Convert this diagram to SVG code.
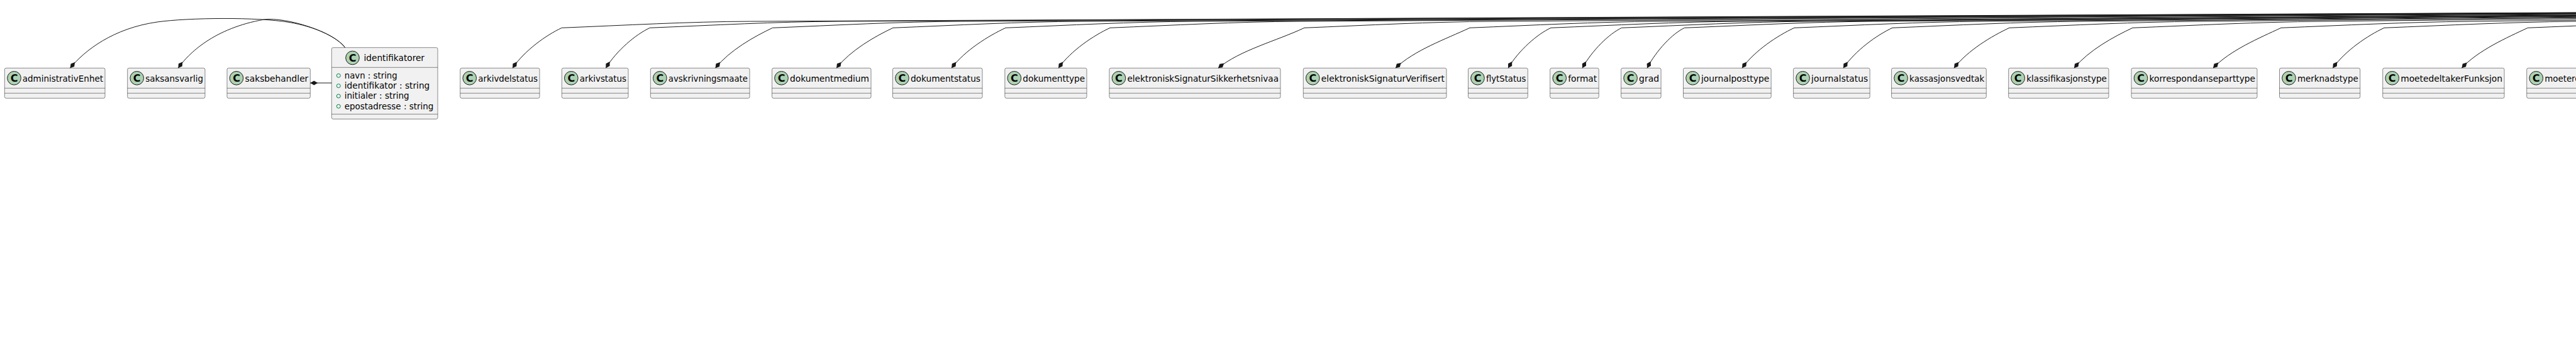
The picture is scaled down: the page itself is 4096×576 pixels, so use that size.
<svg xmlns="http://www.w3.org/2000/svg" width="4096" height="576" viewBox="0 0 4096 576">
<style>
.box{fill:#F1F1F1;stroke:#181818;stroke-width:0.5}
.sep{stroke:#181818;stroke-width:0.5}
.ci{fill:#ADD1B2;stroke:#181818;stroke-width:1}
.cl{font-family:"DejaVu Sans",sans-serif;font-weight:bold;font-size:16px;fill:#000;text-anchor:middle}
.nm{font-family:"DejaVu Sans",sans-serif;font-size:14px;fill:#000}
.vis{fill:none;stroke:#038048;stroke-width:1}
.edge{fill:none;stroke:#181818;stroke-width:1;marker-start:url(#dia)}
</style>
<defs>
<marker id="dia" viewBox="0 -5 14 10" refX="0" refY="0" markerWidth="14" markerHeight="10" markerUnits="userSpaceOnUse" orient="auto">
<path d="M0,0 L6,-3.6 L12,0 L6,3.6 Z" fill="#181818"/>
</marker>
</defs>
<rect width="4096" height="576" fill="#FFFFFF"/>

<g id="administrativEnhet"><rect class="box" x="7.3" y="108.3" width="159.7" height="48" rx="2.5"/><line class="sep" x1="7.3" y1="140.3" x2="167" y2="140.3"/><line class="sep" x1="7.3" y1="148.3" x2="167" y2="148.3"/><circle class="ci" cx="22.5" cy="124.3" r="10.8"/><text class="cl" x="22.5" y="130.1">C</text><text class="nm" x="35.8" y="129.6" textLength="128.2" lengthAdjust="spacingAndGlyphs">administrativEnhet</text></g>
<g id="saksansvarlig"><rect class="box" x="202.7" y="108.3" width="123.3" height="48" rx="2.5"/><line class="sep" x1="202.7" y1="140.3" x2="326" y2="140.3"/><line class="sep" x1="202.7" y1="148.3" x2="326" y2="148.3"/><circle class="ci" cx="217.7" cy="124.3" r="10.8"/><text class="cl" x="217.7" y="130.1">C</text><text class="nm" x="231.2" y="129.6" textLength="91.8" lengthAdjust="spacingAndGlyphs">saksansvarlig</text></g>
<g id="saksbehandler"><rect class="box" x="361" y="108.3" width="132.3" height="48" rx="2.5"/><line class="sep" x1="361" y1="140.3" x2="493.3" y2="140.3"/><line class="sep" x1="361" y1="148.3" x2="493.3" y2="148.3"/><circle class="ci" cx="376" cy="124.3" r="10.8"/><text class="cl" x="376" y="130.1">C</text><text class="nm" x="389.5" y="129.6" textLength="100.8" lengthAdjust="spacingAndGlyphs">saksbehandler</text></g>

<g id="identifikatorer"><rect class="box" x="527.3" y="75.7" width="168.7" height="113.7" rx="2.5"/><line class="sep" x1="527.3" y1="107.3" x2="696" y2="107.3"/><line class="sep" x1="527.3" y1="181.7" x2="696" y2="181.7"/><circle class="ci" cx="560.5" cy="92" r="10.8"/><text class="cl" x="560.5" y="97.8">C</text><text class="nm" x="578.5" y="97" textLength="96.5" lengthAdjust="spacingAndGlyphs">identifikatorer</text>
<circle class="vis" cx="538.3" cy="120.3" r="3"/><text class="nm" x="547.8" y="124.6" textLength="83.9" lengthAdjust="spacingAndGlyphs">navn : string</text>
<circle class="vis" cx="538.3" cy="136.6" r="3"/><text class="nm" x="547.8" y="140.9" textLength="135.5" lengthAdjust="spacingAndGlyphs">identifikator : string</text>
<circle class="vis" cx="538.3" cy="152.9" r="3"/><text class="nm" x="547.8" y="157.2" textLength="102.9" lengthAdjust="spacingAndGlyphs">initialer : string</text>
<circle class="vis" cx="538.3" cy="169.2" r="3"/><text class="nm" x="547.8" y="173.5" textLength="141.5" lengthAdjust="spacingAndGlyphs">epostadresse : string</text></g>

<g id="arkivdelstatus"><rect class="box" x="731.7" y="108.3" width="126.3" height="48" rx="2.5"/><line class="sep" x1="731.7" y1="140.3" x2="858" y2="140.3"/><line class="sep" x1="731.7" y1="148.3" x2="858" y2="148.3"/><circle class="ci" cx="746.7" cy="124.3" r="10.8"/><text class="cl" x="746.7" y="130.1">C</text><text class="nm" x="760.2" y="129.6" textLength="94.8" lengthAdjust="spacingAndGlyphs">arkivdelstatus</text></g>
<g id="arkivstatus"><rect class="box" x="893.3" y="108.3" width="105.7" height="48" rx="2.5"/><line class="sep" x1="893.3" y1="140.3" x2="999" y2="140.3"/><line class="sep" x1="893.3" y1="148.3" x2="999" y2="148.3"/><circle class="ci" cx="908.3" cy="124.3" r="10.8"/><text class="cl" x="908.3" y="130.1">C</text><text class="nm" x="921.8" y="129.6" textLength="74.2" lengthAdjust="spacingAndGlyphs">arkivstatus</text></g>
<g id="avskrivningsmaate"><rect class="box" x="1034.3" y="108.3" width="157.7" height="48" rx="2.5"/><line class="sep" x1="1034.3" y1="140.3" x2="1192" y2="140.3"/><line class="sep" x1="1034.3" y1="148.3" x2="1192" y2="148.3"/><circle class="ci" cx="1049.3" cy="124.3" r="10.8"/><text class="cl" x="1049.3" y="130.1">C</text><text class="nm" x="1062.8" y="129.6" textLength="126.2" lengthAdjust="spacingAndGlyphs">avskrivningsmaate</text></g>
<g id="dokumentmedium"><rect class="box" x="1227.5" y="108.3" width="157.5" height="48" rx="2.5"/><line class="sep" x1="1227.5" y1="140.3" x2="1385" y2="140.3"/><line class="sep" x1="1227.5" y1="148.3" x2="1385" y2="148.3"/><circle class="ci" cx="1242.5" cy="124.3" r="10.8"/><text class="cl" x="1242.5" y="130.1">C</text><text class="nm" x="1256" y="129.6" textLength="126" lengthAdjust="spacingAndGlyphs">dokumentmedium</text></g>
<g id="dokumentstatus"><rect class="box" x="1419.4" y="108.3" width="142.6" height="48" rx="2.5"/><line class="sep" x1="1419.4" y1="140.3" x2="1562" y2="140.3"/><line class="sep" x1="1419.4" y1="148.3" x2="1562" y2="148.3"/><circle class="ci" cx="1434.4" cy="124.3" r="10.8"/><text class="cl" x="1434.4" y="130.1">C</text><text class="nm" x="1447.9" y="129.6" textLength="111.1" lengthAdjust="spacingAndGlyphs">dokumentstatus</text></g>
<g id="dokumenttype"><rect class="box" x="1597.8" y="108.3" width="130.2" height="48" rx="2.5"/><line class="sep" x1="1597.8" y1="140.3" x2="1728" y2="140.3"/><line class="sep" x1="1597.8" y1="148.3" x2="1728" y2="148.3"/><circle class="ci" cx="1612.8" cy="124.3" r="10.8"/><text class="cl" x="1612.8" y="130.1">C</text><text class="nm" x="1626.3" y="129.6" textLength="98.7" lengthAdjust="spacingAndGlyphs">dokumenttype</text></g>
<g id="elektroniskSignaturSikkerhetsnivaa"><rect class="box" x="1763.9" y="108.3" width="272.1" height="48" rx="2.5"/><line class="sep" x1="1763.9" y1="140.3" x2="2036" y2="140.3"/><line class="sep" x1="1763.9" y1="148.3" x2="2036" y2="148.3"/><circle class="ci" cx="1778.9" cy="124.3" r="10.8"/><text class="cl" x="1778.9" y="130.1">C</text><text class="nm" x="1792.4" y="129.6" textLength="240.6" lengthAdjust="spacingAndGlyphs">elektroniskSignaturSikkerhetsnivaa</text></g>
<g id="elektroniskSignaturVerifisert"><rect class="box" x="2072.3" y="108.3" width="227.7" height="48" rx="2.5"/><line class="sep" x1="2072.3" y1="140.3" x2="2300" y2="140.3"/><line class="sep" x1="2072.3" y1="148.3" x2="2300" y2="148.3"/><circle class="ci" cx="2087.3" cy="124.3" r="10.8"/><text class="cl" x="2087.3" y="130.1">C</text><text class="nm" x="2100.8" y="129.6" textLength="196.2" lengthAdjust="spacingAndGlyphs">elektroniskSignaturVerifisert</text></g>
<g id="flytStatus"><rect class="box" x="2334.5" y="108.3" width="94.8" height="48" rx="2.5"/><line class="sep" x1="2334.5" y1="140.3" x2="2429.3" y2="140.3"/><line class="sep" x1="2334.5" y1="148.3" x2="2429.3" y2="148.3"/><circle class="ci" cx="2349.5" cy="124.3" r="10.8"/><text class="cl" x="2349.5" y="130.1">C</text><text class="nm" x="2363" y="129.6" textLength="63.3" lengthAdjust="spacingAndGlyphs">flytStatus</text></g>
<g id="format"><rect class="box" x="2464.7" y="108.3" width="77.5" height="48" rx="2.5"/><line class="sep" x1="2464.7" y1="140.3" x2="2542.2" y2="140.3"/><line class="sep" x1="2464.7" y1="148.3" x2="2542.2" y2="148.3"/><circle class="ci" cx="2479.7" cy="124.3" r="10.8"/><text class="cl" x="2479.7" y="130.1">C</text><text class="nm" x="2493.2" y="129.6" textLength="46" lengthAdjust="spacingAndGlyphs">format</text></g>
<g id="grad"><rect class="box" x="2577.6" y="108.3" width="63.5" height="48" rx="2.5"/><line class="sep" x1="2577.6" y1="140.3" x2="2641.1" y2="140.3"/><line class="sep" x1="2577.6" y1="148.3" x2="2641.1" y2="148.3"/><circle class="ci" cx="2592.6" cy="124.3" r="10.8"/><text class="cl" x="2592.6" y="130.1">C</text><text class="nm" x="2606.1" y="129.6" textLength="32" lengthAdjust="spacingAndGlyphs">grad</text></g>
<g id="journalposttype"><rect class="box" x="2676.5" y="108.3" width="139.7" height="48" rx="2.5"/><line class="sep" x1="2676.5" y1="140.3" x2="2816.2" y2="140.3"/><line class="sep" x1="2676.5" y1="148.3" x2="2816.2" y2="148.3"/><circle class="ci" cx="2691.5" cy="124.3" r="10.8"/><text class="cl" x="2691.5" y="130.1">C</text><text class="nm" x="2705" y="129.6" textLength="108.2" lengthAdjust="spacingAndGlyphs">journalposttype</text></g>
<g id="journalstatus"><rect class="box" x="2851.6" y="108.3" width="121.6" height="48" rx="2.5"/><line class="sep" x1="2851.6" y1="140.3" x2="2973.2" y2="140.3"/><line class="sep" x1="2851.6" y1="148.3" x2="2973.2" y2="148.3"/><circle class="ci" cx="2866.6" cy="124.3" r="10.8"/><text class="cl" x="2866.6" y="130.1">C</text><text class="nm" x="2880.1" y="129.6" textLength="90.1" lengthAdjust="spacingAndGlyphs">journalstatus</text></g>
<g id="kassasjonsvedtak"><rect class="box" x="3007.6" y="108.3" width="150.7" height="48" rx="2.5"/><line class="sep" x1="3007.6" y1="140.3" x2="3158.3" y2="140.3"/><line class="sep" x1="3007.6" y1="148.3" x2="3158.3" y2="148.3"/><circle class="ci" cx="3022.6" cy="124.3" r="10.8"/><text class="cl" x="3022.6" y="130.1">C</text><text class="nm" x="3036.1" y="129.6" textLength="119.2" lengthAdjust="spacingAndGlyphs">kassasjonsvedtak</text></g>
<g id="klassifikasjonstype"><rect class="box" x="3193.7" y="108.3" width="159.3" height="48" rx="2.5"/><line class="sep" x1="3193.7" y1="140.3" x2="3353" y2="140.3"/><line class="sep" x1="3193.7" y1="148.3" x2="3353" y2="148.3"/><circle class="ci" cx="3208.7" cy="124.3" r="10.8"/><text class="cl" x="3208.7" y="130.1">C</text><text class="nm" x="3222.2" y="129.6" textLength="127.8" lengthAdjust="spacingAndGlyphs">klassifikasjonstype</text></g>
<g id="korrespondanseparttype"><rect class="box" x="3389" y="108.3" width="200" height="48" rx="2.5"/><line class="sep" x1="3389" y1="140.3" x2="3589" y2="140.3"/><line class="sep" x1="3389" y1="148.3" x2="3589" y2="148.3"/><circle class="ci" cx="3404" cy="124.3" r="10.8"/><text class="cl" x="3404" y="130.1">C</text><text class="nm" x="3417.5" y="129.6" textLength="168.5" lengthAdjust="spacingAndGlyphs">korrespondanseparttype</text></g>
<g id="merknadstype"><rect class="box" x="3624.5" y="108.3" width="128.2" height="48" rx="2.5"/><line class="sep" x1="3624.5" y1="140.3" x2="3752.7" y2="140.3"/><line class="sep" x1="3624.5" y1="148.3" x2="3752.7" y2="148.3"/><circle class="ci" cx="3639.5" cy="124.3" r="10.8"/><text class="cl" x="3639.5" y="130.1">C</text><text class="nm" x="3653" y="129.6" textLength="96.7" lengthAdjust="spacingAndGlyphs">merknadstype</text></g>
<g id="moetedeltakerFunksjon"><rect class="box" x="3788.7" y="108.3" width="193.3" height="48" rx="2.5"/><line class="sep" x1="3788.7" y1="140.3" x2="3982" y2="140.3"/><line class="sep" x1="3788.7" y1="148.3" x2="3982" y2="148.3"/><circle class="ci" cx="3803.7" cy="124.3" r="10.8"/><text class="cl" x="3803.7" y="130.1">C</text><text class="nm" x="3817.2" y="129.6" textLength="161.8" lengthAdjust="spacingAndGlyphs">moetedeltakerFunksjon</text></g>
<g id="moeteregistreringsstatus"><rect class="box" x="4017.7" y="108.3" width="200" height="48" rx="2.5"/><line class="sep" x1="4017.7" y1="140.3" x2="4217.7" y2="140.3"/><line class="sep" x1="4017.7" y1="148.3" x2="4217.7" y2="148.3"/><circle class="ci" cx="4032.7" cy="124.3" r="10.8"/><text class="cl" x="4032.7" y="130.1">C</text><text class="nm" x="4046.2" y="129.6" textLength="168.5" lengthAdjust="spacingAndGlyphs">moeteregistreringsstatus</text></g>

<g id="connectors">
<path class="edge" d="M111.5,108.3 C135,80 180,45 250,35 C300,28 410,27 460,35.5 C500,42.3 535,58 548.7,75.7"/>
<path class="edge" d="M283.3,108.3 C300,85 340,45 420,31 C455,27 530,50 548.7,75.7"/>
<path class="edge" d="M493.3,132 L527.3,132"/>
<path class="edge" d="M815,108.3 C834.6,80 868.2,56 893.3,44.3 C993.3,40.3 1093.3,34.48 1193.3,34 L6000,10.8"/>
<path class="edge" d="M963.3,108.3 C980.8,80 1010.9,54.8 1033.3,44.3 C1133.3,40.3 1233.3,34.5 1333.3,34 L6000,10.8"/>
<path class="edge" d="M1137.5,108.3 C1160.3,80 1199.4,57.95 1228.5,44.3 C1328.5,40.3 1428.5,34.52 1528.5,34 L6000,10.8"/>
<path class="edge" d="M1330,108.3 C1352.5,80 1391.2,57.8 1420,44.3 C1520,40.3 1620,34.54 1720,34 L6000,10.8"/>
<path class="edge" d="M1513,108.3 C1534.5,80 1571.5,57.2 1599,44.3 C1699,40.3 1799,34.57 1899,34 L6000,10.8"/>
<path class="edge" d="M1683,108.3 C1703.5,80 1738.8,56.6 1765,44.3 C1865,40.3 1965,34.59 2065,34 L6000,10.8"/>
<path class="edge" d="M1937,108.3 C1971.3,80 2030.2,64.85 2074,44.3 C2174,40.3 2274,34.64 2374,34 L6000,10.8"/>
<path class="edge" d="M2219,108.3 C2248.5,80 2299.2,62 2337,44.3 C2437,40.3 2537,34.69 2637,34 L6000,10.8"/>
<path class="edge" d="M2398,108.3 C2415,80 2444.2,54.5 2466,44.3 C2566,40.3 2666,34.72 2766,34 L6000,10.8"/>
<path class="edge" d="M2516,108.3 C2531.7,80 2558.6,53.7 2578.6,44.3 C2678.6,40.3 2778.6,34.74 2878.6,34 L6000,10.8"/>
<path class="edge" d="M2619,108.3 C2633.9,80 2659.5,53.2 2678.5,44.3 C2778.5,40.3 2878.5,34.77 2978.5,34 L6000,10.8"/>
<path class="edge" d="M2770,108.3 C2790.8,80 2826.4,56.75 2853,44.3 C2953,40.3 3053,34.81 3153,34 L6000,10.8"/>
<path class="edge" d="M2931,108.3 C2950.5,80 2984,56 3009,44.3 C3109,40.3 3209,34.86 3309,34 L6000,10.8"/>
<path class="edge" d="M3107,108.3 C3129,80 3166.8,57.5 3195,44.3 C3295,40.3 3395,34.93 3495,34 L6000,10.8"/>
<path class="edge" d="M3298,108.3 C3321.3,80 3361.2,58.25 3391,44.3 C3491,40.3 3591,35 3691,34 L6000,10.8"/>
<path class="edge" d="M3519,108.3 C3546,80 3592.4,60.5 3627,44.3 C3727,40.3 3827,35.12 3927,34 L6000,10.8"/>
<path class="edge" d="M3709.3,108.3 C3729.7,80 3764.9,56.6 3791,44.3 C3891,40.3 3991,35.22 4091,34 L6000,10.8"/>
<path class="edge" d="M3914.3,108.3 C3940.5,80 3985.7,60.05 4019.3,44.3 C4119.3,40.3 4219.3,35.38 4319.3,34 L6000,10.8"/>
</g>
</svg>
